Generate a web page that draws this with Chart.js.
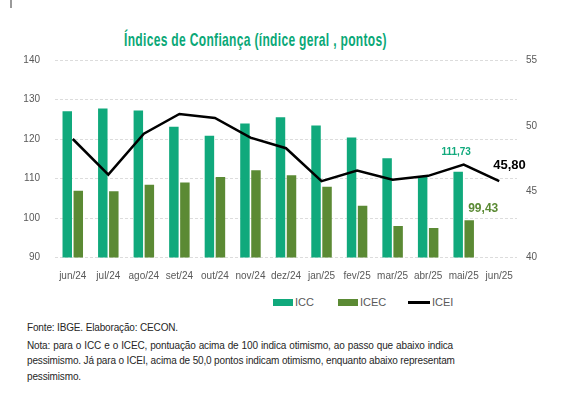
<!DOCTYPE html>
<html>
<head>
<meta charset="utf-8">
<script src="https://cdn.jsdelivr.net/npm/chart.js@4/dist/chart.umd.min.js"></script>
<style>
body { margin: 0; background: #fff; width: 585px; height: 396px; overflow: hidden; position: relative; font-family: "Liberation Sans", Arial, sans-serif; }
#wrap { position: absolute; left: 0; top: 0; width: 585px; height: 285px; }
.title { position: absolute; left: 124px; top: 29px; font-size: 19px; font-weight: bold; letter-spacing: 0.5px; color: #0aa877; white-space: nowrap; transform-origin: 0 0; }
.lg { position: absolute; top: 295px; font-size: 11px; color: #595959; line-height: 15px; }
.box { position: absolute; height: 7px; width: 20px; top: 299px; }
.note { position: absolute; left: 27px; font-size: 10px; color: #262626; line-height: 15px; white-space: nowrap; letter-spacing: -0.15px; }
.just { width: 426px; text-align: justify; text-align-last: justify; }
.tick { position: absolute; left: 10px; top: 0; width: 2px; height: 8px; background: #9a9a9a; }
</style>
</head>
<body>
<div class="tick"></div>
<div class="title" id="title">Índices de Confiança (índice geral , pontos)</div>
<div id="wrap"><canvas id="chart_1" width="585" height="285"></canvas></div>

<div class="box" style="left:273px;background:#10a97c"></div>
<div class="lg" style="left:295px">ICC</div>
<div class="box" style="left:338px;background:#5b8a34"></div>
<div class="lg" style="left:360px">ICEC</div>
<div class="box" style="left:408px;width:22px;height:3px;top:301px;background:#000"></div>
<div class="lg" style="left:432px">ICEI</div>

<div class="note" style="top:320px">Fonte: IBGE. Elaboração: CECON.</div>
<div class="note just" style="top:338px">Nota: para o ICC e o ICEC, pontuação acima de 100 indica otimismo, ao passo que abaixo indica</div>
<div class="note just" style="top:353px">pessimismo. Já para o ICEI, acima de 50,0 pontos indicam otimismo, enquanto abaixo representam</div>
<div class="note" style="top:369px">pessimismo.</div>

<script>
// categorias e séries
var labels = ["jun/24", "jul/24", "ago/24", "set/24", "out/24", "nov/24", "dez/24", "jan/25", "fev/25", "mar/25", "abr/25", "mai/25", "jun/25"]
var icc = [127.0, 127.7, 127.2, 123.1, 120.8, 123.9, 125.5, 123.4, 120.4, 115.1, 110.6, 111.73]
var icec = [106.9, 106.8, 108.4, 109.0, 110.4, 112.1, 110.8, 107.9, 103.1, 98.0, 97.5, 99.43]
var icei = [49.0, 46.3, 49.4, 50.9, 50.6, 49.1, 48.3, 45.8, 46.6, 45.9, 46.2, 47.05, 45.80]

var leftTicks = { min: 90, max: 140, step: 10 }
var rightTicks = { min: 40, max: 55, step: 5 }

var GREEN = "#10a97c"
var OLIVE = "#5b8a34"

// squeeze the title into the same width as the original
var title = document.querySelector("#title")
title.style.transform = "scaleX(" + (263 / title.offsetWidth) + ")"

function fmt(v) {
    return v.toFixed(2).replace(".", ",")
}

// rótulos dos últimos valores
var lastLabels = {
    id: "lastLabels",
    afterDatasetsDraw: function (chart) {
        var ctx = chart.ctx
        ctx.save()
        var m0 = chart.getDatasetMeta(0).data[icc.length - 1]
        var m1 = chart.getDatasetMeta(1).data[icec.length - 1]
        var m2 = chart.getDatasetMeta(2).data[icei.length - 1]
        ctx.textBaseline = "middle"

        ctx.font = "bold 10px 'Liberation Sans', sans-serif"
        ctx.fillStyle = GREEN
        ctx.textAlign = "center"
        ctx.fillText(fmt(icc[icc.length - 1]), m0.x - 2, m0.y - 19)

        ctx.font = "bold 12px 'Liberation Sans', sans-serif"
        ctx.fillStyle = OLIVE
        ctx.textAlign = "left"
        ctx.fillText(fmt(icec[icec.length - 1]), m1.x - 1, m1.y - 12)

        ctx.font = "bold 13px 'Liberation Sans', sans-serif"
        ctx.fillStyle = "#000"
        ctx.fillText(fmt(icei[icei.length - 1]), m2.x - 6, m2.y - 16)
        ctx.restore()
    }
}

var tickFont = { family: "'Liberation Sans', sans-serif", size: 10 }

var config_1 = {
    type: "bar",
    data: {
        labels: labels,
        datasets: [
            { label: "ICC", data: icc, backgroundColor: GREEN, yAxisID: "y", order: 1, categoryPercentage: 0.62, barPercentage: 0.86 },
            { label: "ICEC", data: icec, backgroundColor: OLIVE, yAxisID: "y", order: 1, categoryPercentage: 0.62, barPercentage: 0.86 },
            { label: "ICEI", type: "line", data: icei, borderColor: "#000", borderWidth: 2.5, pointRadius: 0, tension: 0, yAxisID: "y1", order: 0 }
        ]
    },
    options: {
        responsive: false,
        animation: false,
        layout: { padding: { top: 60, left: 0, right: 0, bottom: 0 } },
        plugins: { legend: { display: false }, tooltip: { enabled: false } },
        scales: {
            x: {
                grid: { display: false },
                border: { display: false },
                ticks: { color: "#595959", font: tickFont, padding: 5, maxRotation: 0, autoSkip: false },
                afterFit: function (s) { s.height = 27.5 }
            },
            y: {
                position: "left",
                min: leftTicks.min, max: leftTicks.max,
                ticks: { stepSize: leftTicks.step, color: "#595959", font: tickFont, padding: 15 },
                grid: { color: "#dcdcdc", drawTicks: false },
                border: { display: false, dash: [3, 2] },
                afterFit: function (s) { s.width = 55 }
            },
            y1: {
                position: "right",
                min: rightTicks.min, max: rightTicks.max,
                ticks: { stepSize: rightTicks.step, color: "#595959", font: tickFont, padding: 9 },
                grid: { drawOnChartArea: false, drawTicks: false },
                border: { display: false },
                afterFit: function (s) { s.width = 68 }
            }
        }
    },
    plugins: [lastLabels]
}

var CHART_1 = new Chart(document.querySelector("#chart_1"), config_1)
</script>
</body>
</html>
